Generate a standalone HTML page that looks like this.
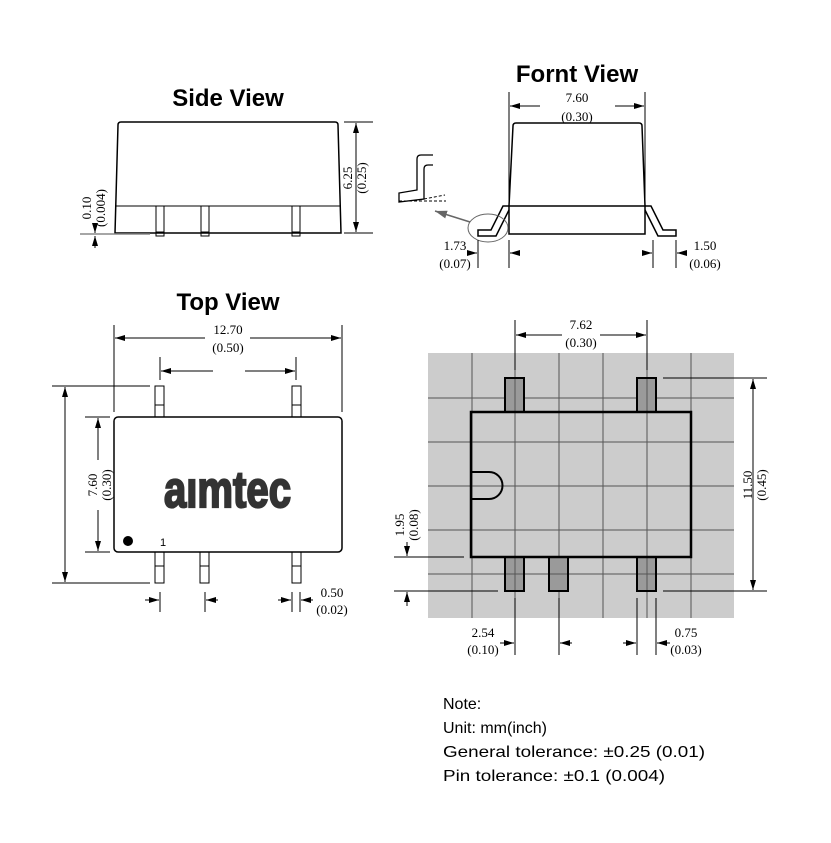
<!DOCTYPE html>
<html><head><meta charset="utf-8"><style>
html,body{margin:0;padding:0;background:#fff}
svg{display:block}
.d{font-family:"Liberation Serif",serif;font-size:13px;fill:#000}
.t{font-family:"Liberation Sans",sans-serif;font-weight:bold;font-size:24px;fill:#000}
.n{font-family:"Liberation Sans",sans-serif;font-size:16px;fill:#000}
</style></head><body>
<svg width="831" height="843" viewBox="0 0 831 843" xmlns="http://www.w3.org/2000/svg">
<defs>
<marker id="a" viewBox="0 0 10 6" refX="10" refY="3" markerWidth="10" markerHeight="6" markerUnits="userSpaceOnUse" orient="auto"><path d="M0,0L10,3L0,6z" fill="#000"/></marker>
<marker id="g" viewBox="0 0 12 8" refX="12" refY="4" markerWidth="12" markerHeight="8" markerUnits="userSpaceOnUse" orient="auto"><path d="M0,0L12,4L0,8z" fill="#666"/></marker>
</defs>
<g stroke="#000" fill="none" stroke-width="1">
<!-- SIDE VIEW -->
<path d="M115,233 L118,125 Q118,122 121,122 L335,122 Q338,122 338,125 L341,233 Z" stroke-width="1.5"/>
<line x1="115" y1="206" x2="341" y2="206"/>
<rect x="156" y="206" width="8" height="30"/><line x1="156" y1="232" x2="164" y2="232"/>
<rect x="201" y="206" width="8" height="30"/><line x1="201" y1="232" x2="209" y2="232"/>
<rect x="292" y="206" width="8" height="30"/><line x1="292" y1="232" x2="300" y2="232"/>
<line x1="344" y1="122" x2="373" y2="122"/><line x1="344" y1="233" x2="373" y2="233"/>
<line x1="356" y1="178" x2="356" y2="123" marker-end="url(#a)"/><line x1="356" y1="178" x2="356" y2="232" marker-end="url(#a)"/>
<line x1="80" y1="234" x2="150" y2="234" stroke="#888" stroke-width="1.5"/>
<line x1="95" y1="224" x2="95" y2="233" marker-end="url(#a)"/>
<line x1="95" y1="248" x2="95" y2="236" marker-end="url(#a)"/>
<!-- FRONT VIEW -->
<path d="M509,206 L513,126 Q513,123 516,123 L639,123 Q642,123 642,126 L645,206" stroke-width="1.5"/>
<rect x="509" y="206" width="136" height="28" stroke-width="1.5"/>
<path d="M509,206 L503,206 L491,230 L478,230 L478,236 L496,236 L509,210" stroke-width="1.5"/>
<path d="M645,206 L651,206 L663,230 L676,230 L676,236 L658,236 L645,210" stroke-width="1.5"/>
<ellipse cx="488" cy="228" rx="20" ry="14" stroke="#666"/>
<line x1="470" y1="222" x2="435" y2="211" stroke="#666" stroke-width="1.5" marker-end="url(#g)"/>
<path d="M433,155 L421,155 Q417,155 417,159 L417,190 L399,193 L399,202 L424,199 L424,169 Q424,165 428,165 L433,165" stroke-width="1.3"/>
<line x1="424" y1="199" x2="445" y2="195" stroke-dasharray="3,2"/>
<line x1="399" y1="201" x2="446" y2="201" stroke-dasharray="3,2"/>
<line x1="509" y1="92" x2="509" y2="205"/><line x1="645" y1="92" x2="645" y2="205"/>
<line x1="540" y1="106" x2="510" y2="106" marker-end="url(#a)"/><line x1="615" y1="106" x2="644" y2="106" marker-end="url(#a)"/>
<line x1="478" y1="240" x2="478" y2="268"/><line x1="509" y1="240" x2="509" y2="268"/>
<line x1="467" y1="253" x2="477" y2="253" marker-end="url(#a)"/><line x1="520" y1="253" x2="510" y2="253" marker-end="url(#a)"/>
<line x1="653" y1="240" x2="653" y2="268"/><line x1="676" y1="240" x2="676" y2="268"/>
<line x1="642" y1="253" x2="652" y2="253" marker-end="url(#a)"/><line x1="687" y1="253" x2="677" y2="253" marker-end="url(#a)"/>
<!-- TOP VIEW -->
<rect x="114" y="417" width="228" height="135" rx="4" stroke-width="1.5"/>
<rect x="155" y="386" width="9" height="31"/><line x1="155" y1="405" x2="164" y2="405"/>
<rect x="292" y="386" width="9" height="31"/><line x1="292" y1="405" x2="301" y2="405"/>
<rect x="155" y="552" width="9" height="31"/><line x1="155" y1="566" x2="164" y2="566"/>
<rect x="200" y="552" width="9" height="31"/><line x1="200" y1="566" x2="209" y2="566"/>
<rect x="292" y="552" width="9" height="31"/><line x1="292" y1="566" x2="301" y2="566"/>
<line x1="114" y1="325" x2="114" y2="412"/><line x1="342" y1="325" x2="342" y2="412"/>
<line x1="205" y1="338" x2="115" y2="338" marker-end="url(#a)"/><line x1="250" y1="338" x2="341" y2="338" marker-end="url(#a)"/>
<line x1="160" y1="357" x2="160" y2="380"/><line x1="296" y1="357" x2="296" y2="380"/>
<line x1="213" y1="371" x2="161" y2="371" marker-end="url(#a)"/><line x1="245" y1="371" x2="295" y2="371" marker-end="url(#a)"/>
<line x1="52" y1="386" x2="150" y2="386"/><line x1="52" y1="583" x2="150" y2="583"/>
<line x1="65" y1="485" x2="65" y2="387" marker-end="url(#a)"/><line x1="65" y1="485" x2="65" y2="582" marker-end="url(#a)"/>
<line x1="85" y1="417" x2="110" y2="417"/><line x1="85" y1="552" x2="110" y2="552"/>
<line x1="98" y1="460" x2="98" y2="418" marker-end="url(#a)"/><line x1="98" y1="510" x2="98" y2="551" marker-end="url(#a)"/>
<line x1="160" y1="592" x2="160" y2="612"/><line x1="205" y1="592" x2="205" y2="612"/>
<line x1="292" y1="592" x2="292" y2="612"/><line x1="300" y1="592" x2="300" y2="612"/>
<line x1="145" y1="600" x2="159" y2="600" marker-end="url(#a)"/><line x1="218" y1="600" x2="206" y2="600" marker-end="url(#a)"/>
<line x1="278" y1="600" x2="291" y2="600" marker-end="url(#a)"/><line x1="313" y1="600" x2="301" y2="600" marker-end="url(#a)"/>
</g>
<circle cx="128" cy="541" r="5" fill="#000"/>
<text x="160" y="546" font-family="Liberation Sans,sans-serif" font-size="11" fill="#000">1</text>
<text x="164" y="0" transform="translate(0,507) scale(1,1.35)" font-family="Liberation Sans,sans-serif" font-weight="bold" font-size="38" fill="#333" stroke="#333" stroke-width="1.6" textLength="127" lengthAdjust="spacingAndGlyphs">aımtec</text>
<!-- FOOTPRINT -->
<rect x="428" y="353" width="306" height="265" fill="#cccccc"/>
<g stroke="#555" stroke-width="1">
<line x1="472" y1="353" x2="472" y2="618"/><line x1="515" y1="353" x2="515" y2="618"/>
<line x1="559" y1="353" x2="559" y2="618"/><line x1="603" y1="353" x2="603" y2="618"/>
<line x1="647" y1="353" x2="647" y2="618"/><line x1="691" y1="353" x2="691" y2="618"/>
<line x1="428" y1="398" x2="734" y2="398"/><line x1="428" y1="442" x2="734" y2="442"/>
<line x1="428" y1="486" x2="734" y2="486"/><line x1="428" y1="530" x2="734" y2="530"/>
<line x1="428" y1="574" x2="734" y2="574"/>
</g>
<g stroke="#000" stroke-width="2" fill="#9a9a9a">
<rect x="505" y="378" width="19" height="34"/><rect x="637" y="378" width="19" height="34"/>
<rect x="505" y="557" width="19" height="34"/><rect x="549" y="557" width="19" height="34"/><rect x="637" y="557" width="19" height="34"/>
</g>
<g stroke="#555" stroke-width="1">
<line x1="515" y1="379" x2="515" y2="411"/><line x1="647" y1="379" x2="647" y2="411"/>
<line x1="515" y1="558" x2="515" y2="590"/><line x1="647" y1="558" x2="647" y2="590"/>
<line x1="506" y1="574" x2="523" y2="574"/><line x1="550" y1="574" x2="567" y2="574"/><line x1="638" y1="574" x2="655" y2="574"/>
</g>
<rect x="471" y="412" width="220" height="145" fill="none" stroke="#000" stroke-width="2.5"/>
<path d="M471,472 L489,472 A13.5,13.5 0 0 1 489,499 L471,499" fill="none" stroke="#000" stroke-width="2"/>
<g stroke="#000" stroke-width="1" fill="none">
<line x1="515" y1="320" x2="515" y2="370"/><line x1="647" y1="320" x2="647" y2="370"/>
<line x1="562" y1="335" x2="516" y2="335" marker-end="url(#a)"/><line x1="600" y1="335" x2="646" y2="335" marker-end="url(#a)"/>
<line x1="663" y1="378" x2="767" y2="378"/><line x1="663" y1="591" x2="767" y2="591"/>
<line x1="753" y1="485" x2="753" y2="379" marker-end="url(#a)"/><line x1="753" y1="485" x2="753" y2="590" marker-end="url(#a)"/>
<line x1="394" y1="557" x2="464" y2="557"/><line x1="394" y1="591" x2="498" y2="591"/>
<line x1="407" y1="542" x2="407" y2="556" marker-end="url(#a)"/><line x1="407" y1="606" x2="407" y2="592" marker-end="url(#a)"/>
<line x1="515" y1="598" x2="515" y2="655"/><line x1="559" y1="598" x2="559" y2="655"/>
<line x1="500" y1="643" x2="514" y2="643" marker-end="url(#a)"/><line x1="572" y1="643" x2="560" y2="643" marker-end="url(#a)"/>
<line x1="637" y1="598" x2="637" y2="655"/><line x1="656" y1="598" x2="656" y2="655"/>
<line x1="623" y1="643" x2="636" y2="643" marker-end="url(#a)"/><line x1="670" y1="643" x2="657" y2="643" marker-end="url(#a)"/>
</g>
<!-- TITLES -->
<text class="t" x="228" y="106" text-anchor="middle">Side View</text>
<text class="t" x="577" y="82" text-anchor="middle">Fornt View</text>
<text class="t" x="228" y="310" text-anchor="middle">Top View</text>
<!-- DIM TEXT -->
<g class="d" text-anchor="middle">
<text transform="translate(352,178) rotate(-90)"><tspan x="0" y="0">6.25</tspan><tspan x="0" y="14">(0.25)</tspan></text>
<text transform="translate(91,208) rotate(-90)"><tspan x="0" y="0">0.10</tspan><tspan x="0" y="14">(0.004)</tspan></text>
<text x="577" y="102">7.60</text><text x="577" y="121">(0.30)</text>
<text x="455" y="250">1.73</text><text x="455" y="268">(0.07)</text>
<text x="705" y="250">1.50</text><text x="705" y="268">(0.06)</text>
<text x="228" y="334">12.70</text><text x="228" y="352">(0.50)</text>
<text transform="translate(97,485) rotate(-90)"><tspan x="0" y="0">7.60</tspan><tspan x="0" y="14">(0.30)</tspan></text>
<text x="332" y="597">0.50</text><text x="332" y="614">(0.02)</text>
<text x="581" y="329">7.62</text><text x="581" y="347">(0.30)</text>
<text transform="translate(752,485) rotate(-90)"><tspan x="0" y="0">11.50</tspan><tspan x="0" y="14">(0.45)</tspan></text>
<text transform="translate(404,525) rotate(-90)"><tspan x="0" y="0">1.95</tspan><tspan x="0" y="14">(0.08)</tspan></text>
<text x="483" y="637">2.54</text><text x="483" y="654">(0.10)</text>
<text x="686" y="637">0.75</text><text x="686" y="654">(0.03)</text>
</g>
<!-- NOTE -->
<text class="n" x="443" y="709">Note:</text>
<text class="n" x="443" y="733">Unit: mm(inch)</text>
<text class="n" x="443" y="757" textLength="262" lengthAdjust="spacingAndGlyphs">General tolerance: ±0.25 (0.01)</text>
<text class="n" x="443" y="781" textLength="222" lengthAdjust="spacingAndGlyphs">Pin tolerance: ±0.1 (0.004)</text>
</svg>
</body></html>
